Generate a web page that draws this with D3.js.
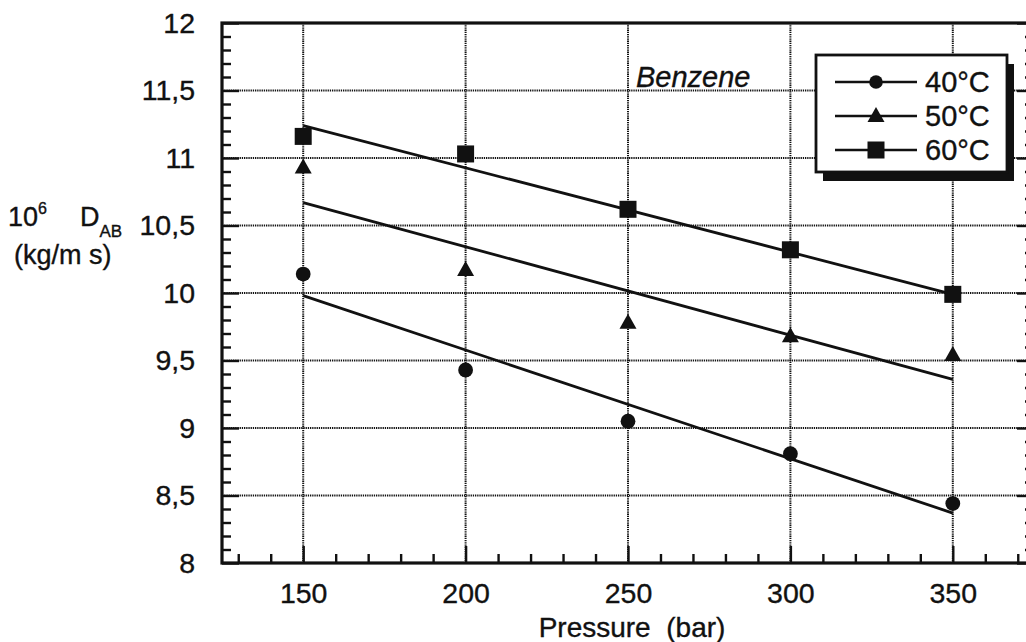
<!DOCTYPE html>
<html>
<head>
<meta charset="utf-8">
<script src="https://cdn.jsdelivr.net/npm/d3@7"></script>
<style>
  html, body { margin: 0; padding: 0; background: #fff; }
  svg { display: block; }
  text { font-family: "Liberation Sans", Arial, Helvetica, sans-serif; fill: #111; stroke: #111; stroke-width: 0.35px; }
</style>
</head>
<body>
<svg id="chart" width="1026" height="642"></svg>
<script>
// Diffusion coefficient of benzene vs pressure at three temperatures
const pressures = [150, 200, 250, 300, 350];
const d40 = [10.14, 9.43, 9.05, 8.81, 8.44];
const d50 = [10.93, 10.17, 9.78, 9.68, 9.54];
const d60 = [11.16, 11.03, 10.62, 10.32, 9.99];

// straight-line fits, given at the ends of the pressure range
const fitPressures = [150, 350];
const fit40 = [9.98, 8.37];
const fit50 = [10.67, 9.36];
const fit60 = [11.24, 9.99];

const seriesNames = ["40°C", "50°C", "60°C"];
const seriesShapes = ["circle", "triangle", "square"];

const xTicks = [150, 200, 250, 300, 350];
const yTicks = [8, 8.5, 9, 9.5, 10, 10.5, 11, 11.5, 12];

const series = seriesNames.map((name, i) => ({
  name,
  shape: seriesShapes[i],
  values: [d40, d50, d60][i],
  fit: [fit40, fit50, fit60][i]
}));

const svg = d3.select("#chart");
const plotLeft = 222, plotRight = 1034, plotTop = 23, plotBottom = 563;

const x = d3.scaleLinear().domain([125, 375]).range([plotLeft, plotRight]);
const y = d3.scaleLinear().domain([8, 12]).range([plotBottom, plotTop]);

const fmt = d => String(d).replace(".", ",");

// dotted grid at the major ticks
const grid = svg.append("g")
  .attr("stroke", "#111")
  .attr("stroke-width", 2)
  .attr("stroke-dasharray", "1.3 0.9");
grid.selectAll("line.gx")
  .data(xTicks)
  .join("line")
  .attr("class", "gx")
  .attr("x1", d => x(d)).attr("x2", d => x(d))
  .attr("y1", plotTop).attr("y2", plotBottom);
grid.selectAll("line.gy")
  .data(yTicks.filter(d => d > 8 && d < 12))
  .join("line")
  .attr("class", "gy")
  .attr("x1", plotLeft).attr("x2", plotRight)
  .attr("y1", d => y(d)).attr("y2", d => y(d));

// axes: inward ticks, major and minor
function styleAxis(g) {
  g.select(".domain").remove();
  g.selectAll(".tick line").attr("stroke", "#111").attr("stroke-width", 2.4);
  g.selectAll(".tick text")
    .style("font-size", "28.5px")
    .attr("fill", "#111");
}

const xMinor = d3.range(130, 375, 10).filter(d => d % 50 !== 0);
const yMinor = d3.range(80, 120, 1).map(d => d / 10).filter(d => Math.round(d * 10) % 5 !== 0);

svg.append("g")
  .attr("transform", `translate(0,${plotBottom})`)
  .call(d3.axisBottom(x).tickValues(xTicks).tickSize(-17).tickPadding(20).tickFormat(fmt))
  .call(styleAxis);
svg.append("g")
  .attr("transform", `translate(0,${plotBottom})`)
  .call(d3.axisBottom(x).tickValues(xMinor).tickSize(-9).tickFormat(""))
  .call(styleAxis);

svg.append("g")
  .attr("transform", `translate(${plotLeft},0)`)
  .call(d3.axisLeft(y).tickValues(yTicks).tickSize(-17).tickPadding(27).tickFormat(fmt))
  .call(styleAxis);
svg.append("g")
  .attr("transform", `translate(${plotLeft},0)`)
  .call(d3.axisLeft(y).tickValues(yMinor).tickSize(-9).tickFormat(""))
  .call(styleAxis);

svg.append("g")
  .attr("transform", `translate(${plotRight},0)`)
  .call(d3.axisRight(y).tickValues(yTicks).tickSize(-17).tickFormat(""))
  .call(styleAxis);
svg.append("g")
  .attr("transform", `translate(${plotRight},0)`)
  .call(d3.axisRight(y).tickValues(yMinor).tickSize(-9).tickFormat(""))
  .call(styleAxis);

// frame
svg.append("rect")
  .attr("x", plotLeft).attr("y", plotTop)
  .attr("width", plotRight - plotLeft).attr("height", plotBottom - plotTop)
  .attr("fill", "none").attr("stroke", "#111").attr("stroke-width", 3.2);

// markers
function drawMarker(g, shape, cx, cy, s) {
  if (shape === "circle") {
    g.append("circle").attr("cx", cx).attr("cy", cy).attr("r", 7.4 * s).attr("fill", "#111");
  } else if (shape === "square") {
    const a = 17 * s;
    g.append("rect").attr("x", cx - a / 2).attr("y", cy - a / 2)
      .attr("width", a).attr("height", a).attr("fill", "#111");
  } else {
    const w = 17 * s, h = 15 * s;
    g.append("path")
      .attr("d", `M${cx},${cy - h * 0.6}L${cx + w / 2},${cy + h * 0.4}L${cx - w / 2},${cy + h * 0.4}Z`)
      .attr("fill", "#111");
  }
}

const line = d3.line().x(d => x(d[0])).y(d => y(d[1]));
const plot = svg.append("g");
series.forEach(s => {
  plot.append("path")
    .attr("d", line(fitPressures.map((p, i) => [p, s.fit[i]])))
    .attr("fill", "none").attr("stroke", "#111").attr("stroke-width", 2.8);
  pressures.forEach((p, i) => drawMarker(plot, s.shape, x(p), y(s.values[i]), 1));
});

// annotation
svg.append("text")
  .attr("x", 636).attr("y", 87)
  .style("font-size", "29px").style("font-style", "italic")
  .text("Benzene");

// legend with drop shadow
const lg = svg.append("g");
const lx = 816, ly = 55, lw = 191, lh = 117;
lg.append("rect").attr("x", lx + 7).attr("y", ly + 9).attr("width", lw).attr("height", lh).attr("fill", "#111");
lg.append("rect").attr("x", lx).attr("y", ly).attr("width", lw).attr("height", lh)
  .attr("fill", "#fff").attr("stroke", "#111").attr("stroke-width", 2.8);
series.forEach((s, i) => {
  const ry = 82 + i * 34;
  lg.append("line").attr("x1", 835).attr("x2", 917).attr("y1", ry).attr("y2", ry)
    .attr("stroke", "#111").attr("stroke-width", 2.6);
  drawMarker(lg, s.shape, 876, ry, s.shape === "circle" ? 0.92 : 1);
  lg.append("text").attr("x", 925).attr("y", ry + 10)
    .style("font-size", "29px").text(s.name);
});

// axis titles
svg.append("text")
  .attr("x", 632).attr("y", 637)
  .attr("text-anchor", "middle")
  .style("font-size", "28px")
  .text("Pressure\u00a0\u00a0(bar)");

const yl = svg.append("text").attr("x", 8).attr("y", 226).style("font-size", "27px");
yl.append("tspan").text("10");
yl.append("tspan").attr("dy", -12).style("font-size", "16px").text("6");
yl.append("tspan").attr("x", 80).attr("dy", 12).text("D");
yl.append("tspan").attr("dy", 11).style("font-size", "17px").text("AB");
svg.append("text").attr("x", 14).attr("y", 264).style("font-size", "27px").text("(kg/m s)");
</script>
</body>
</html>
